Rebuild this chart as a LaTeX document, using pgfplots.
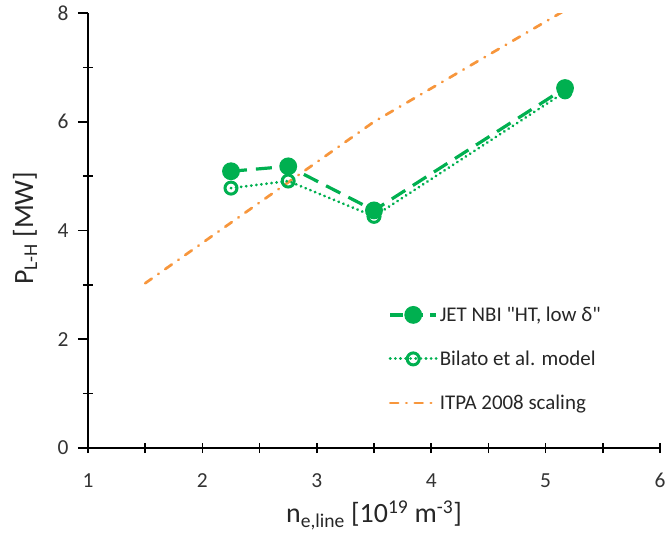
\documentclass[border=0pt]{standalone}
\usepackage{fontspec}
\setmainfont{Carlito}
\usepackage{pgfplots}
\pgfplotsset{compat=1.18}
\definecolor{jetgreen}{RGB}{0,176,80}
\definecolor{itpaorange}{RGB}{247,150,60}
\begin{document}
\begin{tikzpicture}
\useasboundingbox (-88bp,-88bp) rectangle (577bp,448bp);
\begin{axis}[
    scale only axis,
    width=572bp, height=435bp,
    xmin=1, xmax=6, ymin=0, ymax=8,
    axis x line=bottom, axis y line=left,
    axis line style={line width=2.2bp, -},
    xtick={1,2,3,4,5,6}, ytick={0,2,4,6,8},
    minor x tick num=1, minor y tick num=1,
    xtick align=center, ytick align=outside,
    major tick length=10bp, minor tick length=10bp,
    tick style={line width=1.6bp, black},
    minor y tick style={xshift=5bp},
    /pgf/number format/assume math mode=true,
    tick label style={font=\fontsize{21.5}{23}\selectfont, color=black!80},
    xticklabel style={yshift=-17bp},
    yticklabel style={xshift=-6bp},
    xlabel={n\textsubscript{e,line} [10\textsuperscript{19} m\textsuperscript{-3}]},
    ylabel={P\textsubscript{L-H} [MW]},
    label style={font=\fontsize{28}{30}\selectfont, color=black!85},
    xlabel style={at={(axis description cs:0.5,-0.155)}, anchor=center},
    ylabel style={at={(axis description cs:-0.11,0.505)}, anchor=center},
    legend style={at={(axis description cs:0.52,0.334)}, anchor=north west,
        draw=none, fill=none, font=\fontsize{21}{24}\selectfont,
        row sep=24bp, text=black!85},
    legend cell align=left,
    legend image code/.code={
        \draw[mark repeat=2, mark phase=2] plot coordinates {(0bp,0bp) (23bp,0bp) (46bp,0bp)};
    },
]
% ITPA 2008 scaling
\addplot[forget plot, itpaorange, line width=2.7bp, line cap=round,
    dash pattern=on 8bp off 8bp on 0.5bp off 8bp]
    coordinates {(1.5,3.03) (3.5,6.0) (5.17,8.05)};
% Bilato et al. model
\addplot[forget plot, jetgreen, line width=3bp, line cap=round,
    dash pattern=on 0.1bp off 5bp,
    mark=o, mark size=6bp, mark options={solid, fill=white, line width=3bp}]
    coordinates {(2.25,4.78) (2.75,4.91) (3.5,4.26) (5.17,6.55)};
% JET NBI
\addplot[forget plot, jetgreen, line width=3.2bp,
    dash pattern=on 16bp off 9bp,
    mark=*, mark size=7.3bp, mark options={solid}]
    coordinates {(2.25,5.09) (2.75,5.18) (3.5,4.37) (5.17,6.62)};

\addlegendimage{jetgreen, line width=3.2bp, dash pattern=on 13bp off 7bp,
    mark=*, mark size=7.3bp, mark options={solid}}
\addlegendentry{JET NBI \textquotedbl HT, low δ\textquotedbl}
\addlegendimage{jetgreen, line width=3bp, line cap=round, dash pattern=on 0.1bp off 5bp,
    mark=o, mark size=6bp, mark options={solid, fill=white, line width=3bp}}
\addlegendentry{Bilato et al. model}
\addlegendimage{itpaorange, line width=2.7bp, line cap=round,
    dash pattern=on 8bp off 8bp on 0.5bp off 8bp}
\addlegendentry{ITPA 2008 scaling}
\end{axis}
\end{tikzpicture}
\end{document}
